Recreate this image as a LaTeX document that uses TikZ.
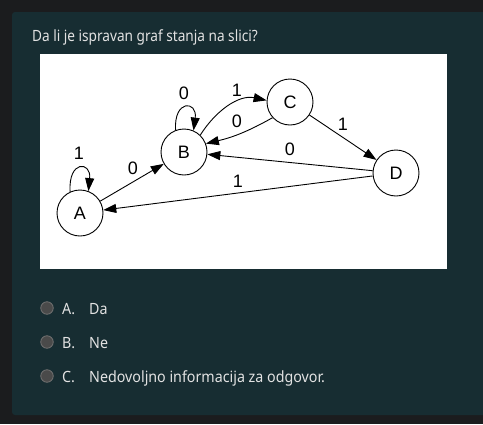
\documentclass[tikz,border=0pt]{standalone}
\usepackage{fontspec}
\setmainfont{Liberation Sans}
\newfontfamily\titlefont[FakeStretch=0.88]{Noto Sans}
\newfontfamily\uifont[FakeStretch=0.92]{Noto Sans}
\usetikzlibrary{arrows.meta}
\definecolor{outerbg}{HTML}{1B1C1E}
\definecolor{panelbg}{HTML}{172D32}
\definecolor{uitext}{HTML}{E2E2E2}
\definecolor{radiofill}{HTML}{4A4A4A}
\definecolor{radioedge}{HTML}{707070}
\begin{document}
\begin{tikzpicture}[x=1pt,y=-1pt,
  state/.style={circle,draw,line width=0.9pt,minimum size=46pt,inner sep=0pt,font=\fontsize{18}{18}\selectfont},
  lbl/.style={font=\fontsize{18}{18}\selectfont,inner sep=0pt},
  edge/.style={line width=0.9pt,-{Triangle[length=13pt,width=9pt]}},
  ui/.style={text=uitext,font=\uifont\fontsize{15.5}{16}\selectfont,inner sep=0pt,anchor=base west},
  radio/.style={circle,fill=radiofill,draw=radioedge,line width=0.8pt,minimum size=12.5pt,inner sep=0pt}]
\useasboundingbox (0,0) rectangle (483,424);
\fill[outerbg] (0,0) rectangle (483,424);
\fill[panelbg,rounded corners=3pt] (12,12) rectangle (495,415);
\node[ui,font=\titlefont\fontsize{15.5}{16}\selectfont] (title) at (32,41) {Da li je ispravan graf stanja na slici?};
\fill[white] (40,54) rectangle (447,269);

\node[state] (A) at (80,213) {A};
\node[state] (B) at (184,152) {B};
\node[state] (C) at (290,102) {C};
\node[state] (D) at (396,173) {D};

\draw[edge] (A.115) .. controls +(-2,-32) and +(3,-30) .. (A.69);
\draw[edge] (B.111) .. controls +(-2,-31) and +(4,-30) .. (B.66);
\draw[edge] (A) -- (B);
\draw[edge] (B.46) .. controls +(15,-24) and +(-28,-6) .. (C.176);
\draw[edge] (C.222) to[bend left=8] (B.21);
\draw[edge] (C) -- (D);
\draw[edge] (D) -- (B);
\draw[edge] (D) -- (A);

\node[lbl] (lA) at (79,153) {1};
\node[lbl] (lAB) at (133,168) {0};
\node[lbl] (lB) at (184,93) {0};
\node[lbl] (lBC) at (237,90) {1};
\node[lbl] (lCB) at (237,121) {0};
\node[lbl] (lCD) at (343,124) {1};
\node[lbl] (lDB) at (290,149) {0};
\node[lbl] (lDA) at (238,181) {1};

\node[radio] (r1) at (47,308) {};
\node[radio] (r2) at (47,342) {};
\node[radio] (r3) at (47,376) {};
\node[ui] (o1) at (62,314) {A.};
\node[ui] (o2) at (62,348) {B.};
\node[ui] (o3) at (62,382) {C.};
\node[ui] (t1) at (89,314) {Da};
\node[ui] (t2) at (89,348) {Ne};
\node[ui] (t3) at (89,382) {Nedovoljno informacija za odgovor.};
\end{tikzpicture}
\end{document}
